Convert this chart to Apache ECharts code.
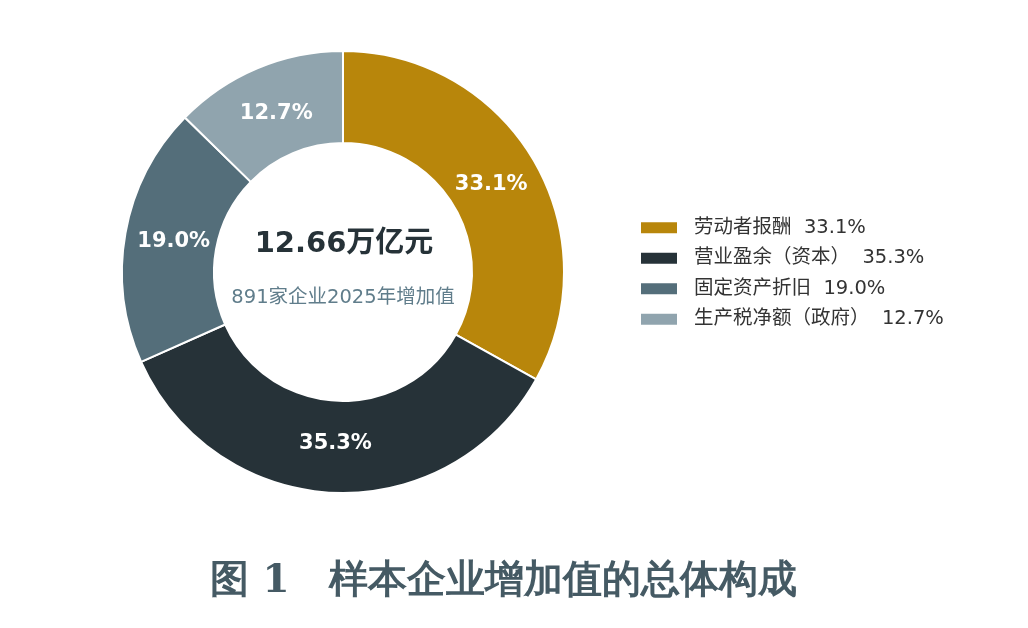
<!DOCTYPE html>
<html>
<head>
<meta charset="utf-8">
<title>样本企业增加值的总体构成</title>
<script src="https://cdn.jsdelivr.net/npm/echarts@6/dist/echarts.min.js"></script>
<style>
  html, body { margin: 0; padding: 0; background: #fff; }
  #main { width: 1028px; height: 628px; }
</style>
</head>
<body>
<div id="main"></div>
<script>
// 数据
var categories = ['劳动者报酬', '营业盈余（资本）', '固定资产折旧', '生产税净额（政府）'];
var shares = [33.1, 35.3, 19.0, 12.7];
var colors = ['#B8860B', '#263238', '#546E7A', '#90A4AE'];
var totalText = '12.66万亿元';
var subText = '891家企业2025年增加值';
var figTitle = '图 1　样本企业增加值的总体构成';

var font = 'DejaVu Sans, "Noto Sans CJK SC", sans-serif';

var chart = echarts.init(document.getElementById('main'));

var pieData = categories.map(function (name, i) {
  return { name: name, value: shares[i], itemStyle: { color: colors[i] } };
});
// 标签层：同一组数据，透明扇区，只负责把百分比放得略靠内
var labelData = categories.map(function (name, i) {
  return { name: name, value: shares[i] };
});

var option = {
  backgroundColor: '#fff',
  animation: false,
  title: {
    text: figTitle,
    left: 205,
    top: 557,
    textStyle: {
      fontFamily: '"DejaVu Serif", serif',
      fontWeight: 'bold',
      fontSize: 39,
      color: '#455A64'
    }
  },
  legend: {
    orient: 'vertical',
    left: 634,
    top: 213,
    itemWidth: 38,
    itemHeight: 13,
    itemGap: 11,
    icon: 'rect',
    data: categories,
    formatter: function (name) {
      var idx = categories.indexOf(name);
      return name + '  ' + shares[idx].toFixed(1) + '%';
    },
    textStyle: {
      fontFamily: font,
      fontSize: 19.5,
      color: '#333',
      padding: [0, 0, 0, 11]
    }
  },
  graphic: [
    {
      type: 'text',
      x: 344,
      y: 244,
      style: {
        text: totalText,
        fontFamily: font,
        fontWeight: 'bold',
        fontSize: 29,
        fill: '#263238',
        textAlign: 'center',
        textVerticalAlign: 'middle'
      }
    },
    {
      type: 'text',
      x: 343,
      y: 298,
      style: {
        text: subText,
        fontFamily: font,
        fontSize: 19.5,
        fill: '#607D8B',
        textAlign: 'center',
        textVerticalAlign: 'middle'
      }
    }
  ],
  series: [
    {
      type: 'pie',
      center: [343, 272],
      radius: [129, 221],
      startAngle: 90,
      clockwise: true,
      avoidLabelOverlap: false,
      itemStyle: { borderColor: '#fff', borderWidth: 2 },
      label: { show: false },
      labelLine: { show: false },
      emphasis: { disabled: true },
      data: pieData
    },
    {
      type: 'pie',
      center: [343, 272],
      radius: [117, 221],
      startAngle: 90,
      clockwise: true,
      silent: true,
      avoidLabelOverlap: false,
      itemStyle: { color: 'rgba(0,0,0,0)', borderWidth: 0 },
      label: {
        show: true,
        position: 'inside',
        formatter: function (p) { return p.value.toFixed(1) + '%'; },
        fontFamily: font,
        fontWeight: 'bold',
        fontSize: 21,
        color: '#fff'
      },
      labelLine: { show: false },
      emphasis: { disabled: true },
      data: labelData
    }
  ]
};

chart.setOption(option);
</script>
</body>
</html>
